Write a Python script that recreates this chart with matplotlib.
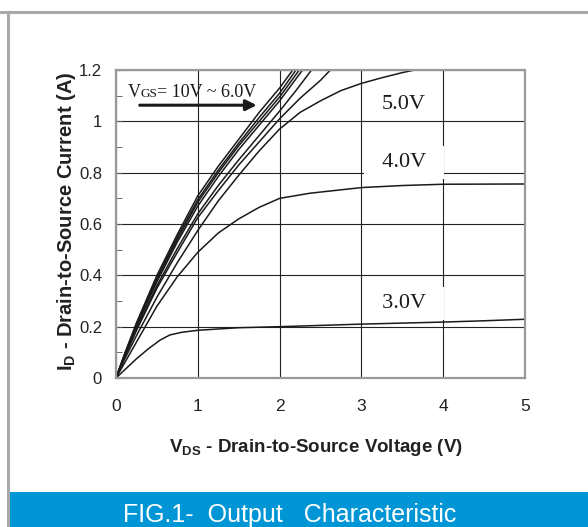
import matplotlib
matplotlib.use("Agg")
import matplotlib.pyplot as plt
from matplotlib.lines import Line2D
from matplotlib.patches import Rectangle
from matplotlib.ticker import MultipleLocator, FuncFormatter
from matplotlib.offsetbox import TextArea, HPacker, AnnotationBbox

# drain current vs drain-source voltage
vds_10v = [0, 0.1, 0.25, 0.5, 0.75, 1.0, 1.25, 1.5, 1.75, 2.0, 2.16]
id_10v = [0, 0.09, 0.215, 0.40, 0.56, 0.71, 0.825, 0.93, 1.035, 1.13, 1.2]
vds_9v = [0, 0.1, 0.25, 0.5, 0.75, 1.0, 1.25, 1.5, 1.75, 2.0, 2.2]
id_9v = [0, 0.088, 0.21, 0.39, 0.55, 0.695, 0.81, 0.915, 1.015, 1.11, 1.2]
vds_8v = [0, 0.1, 0.25, 0.5, 0.75, 1.0, 1.25, 1.5, 1.75, 2.0, 2.24]
id_8v = [0, 0.086, 0.205, 0.385, 0.54, 0.685, 0.80, 0.905, 1.0, 1.095, 1.2]
vds_7v = [0, 0.1, 0.25, 0.5, 0.75, 1.0, 1.25, 1.5, 1.75, 2.0, 2.28]
id_7v = [0, 0.084, 0.20, 0.375, 0.53, 0.67, 0.785, 0.89, 0.985, 1.08, 1.2]
vds_65v = [0, 0.1, 0.25, 0.5, 0.75, 1.0, 1.25, 1.5, 1.75, 2.0, 2.2, 2.39]
id_65v = [0, 0.08, 0.19, 0.36, 0.505, 0.64, 0.75, 0.85, 0.945, 1.04, 1.12, 1.2]
vds_6v = [0, 0.1, 0.25, 0.5, 0.75, 1.0, 1.25, 1.5, 1.75, 2.0, 2.25, 2.5, 2.62]
id_6v = [0, 0.078, 0.185, 0.35, 0.49, 0.625, 0.73, 0.83, 0.92, 1.01, 1.09, 1.16, 1.2]
vds_5v = [0, 0.1, 0.25, 0.5, 0.75, 1.0, 1.25, 1.5, 1.75, 2.0, 2.25, 2.5, 2.75, 3.0, 3.25, 3.5, 3.72]
id_5v = [0, 0.07, 0.165, 0.315, 0.45, 0.575, 0.69, 0.79, 0.885, 0.97, 1.035, 1.08, 1.12, 1.148, 1.17, 1.19, 1.205]
vds_4v = [0, 0.1, 0.25, 0.5, 0.75, 1.0, 1.25, 1.5, 1.75, 2.0, 2.37, 3.0, 3.5, 4.0, 5.0]
id_4v = [0, 0.056, 0.14, 0.28, 0.395, 0.49, 0.565, 0.62, 0.665, 0.70, 0.72, 0.742, 0.75, 0.755, 0.756]
vds_3v = [0, 0.1, 0.25, 0.4, 0.54, 0.66, 0.8, 1.0, 1.5, 2.0, 2.5, 3.0, 3.5, 4.0, 4.5, 5.0]
id_3v = [0, 0.03, 0.075, 0.115, 0.148, 0.168, 0.178, 0.186, 0.196, 0.20, 0.205, 0.21, 0.214, 0.218, 0.223, 0.229]

curves = [(vds_10v, id_10v), (vds_9v, id_9v), (vds_8v, id_8v), (vds_7v, id_7v),
          (vds_65v, id_65v), (vds_6v, id_6v), (vds_5v, id_5v), (vds_4v, id_4v),
          (vds_3v, id_3v)]

x_ticks = [0, 1, 2, 3, 4, 5]
y_ticks = [0, 0.2, 0.4, 0.6, 0.8, 1.0, 1.2]

plt.rcParams["font.family"] = ["Liberation Sans", "DejaVu Sans"]
plt.rcParams["mathtext.fontset"] = "custom"
plt.rcParams["mathtext.rm"] = "Liberation Sans:bold"

ink = "#1a1a1a"
fig = plt.figure(figsize=(5.88, 5.27), dpi=100)
ax = fig.add_axes([0.1973, 0.2827, 0.6956, 0.5844])

for vds, ids in curves:
    ax.plot(vds, ids, color=ink, lw=1.1, zorder=2)

ax.set_xlim(0, 5)
ax.set_ylim(0, 1.2)
ax.set_xticks(x_ticks)
ax.set_yticks(y_ticks)
ax.yaxis.set_minor_locator(MultipleLocator(0.1))
ax.yaxis.set_major_formatter(FuncFormatter(lambda v, p: f"{v:g}"))
ax.tick_params(axis="x", direction="in", length=0, pad=15, labelsize=12.5, labelcolor="#222222")
ax.tick_params(axis="y", which="major", direction="in", length=4, pad=10, labelsize=12,
               labelcolor="#222222", color="#555555")
ax.tick_params(axis="y", which="minor", direction="in", length=4, color="#555555")
ax.grid(True, color="#222222", lw=0.8)
for s in ax.spines.values():
    s.set_color("#999999")
    s.set_linewidth(1.6)

ax.set_xlabel(r"V$_{\mathrm{DS}}$ - Drain-to-Source Voltage (V)", fontsize=13.5,
              fontweight="bold", color="#222222")
ax.xaxis.set_label_coords(0.49, -0.19)
ax.set_ylabel(r"I$_{\mathrm{D}}$ - Drain-to-Source Current (A)", fontsize=14.5,
              fontweight="bold", color="#222222")
ax.yaxis.set_label_coords(-0.093, 0.51)

# curve labels
serif = dict(family="Liberation Serif", color=ink, fontsize=16, ha="center", va="center", zorder=3)
ax.text(3.52, 1.065, "5.0V", **serif)
box = dict(boxstyle="square,pad=0.3", fc="white", ec="none")
ax.text(3.52, 0.84, "  4.0V  ", bbox=box, **serif)
ax.text(3.52, 0.29, "  3.0V  ", bbox=box, **serif)

big = dict(family="Liberation Serif", size=13, color=ink)
small = dict(family="Liberation Serif", size=9.5, color=ink)
pack = HPacker(children=[TextArea("V", textprops=big), TextArea("GS", textprops=small),
                         TextArea("= 10V ~ 6.0V", textprops=big)],
               align="baseline", pad=0, sep=0)
ax.add_artist(AnnotationBbox(pack, (0.93, 1.114), xycoords="data", frameon=False,
                             box_alignment=(0.5, 0.5), zorder=3))
ax.annotate("", xy=(1.72, 1.063), xytext=(0.29, 1.063),
            arrowprops=dict(arrowstyle="-|>", color=ink, lw=2.2, mutation_scale=16,
                            shrinkA=0, shrinkB=0))

# page frame and caption banner
fig.add_artist(Line2D([0, 1], [0.978, 0.978], transform=fig.transFigure, color="#aaaaaa", lw=2.2))
fig.add_artist(Line2D([0.0141, 0.0141], [0, 0.978], transform=fig.transFigure, color="#aaaaaa", lw=2.2))
fig.add_artist(Rectangle((0.017, 0), 1, 35 / 527, transform=fig.transFigure,
                         facecolor="#0096d6", edgecolor="none"))
fig.text(0.493, 0.010, "FIG.1-  Output   Characteristic", color="white", fontsize=18,
         ha="center", va="baseline")

fig.savefig("out.png", dpi=100)
